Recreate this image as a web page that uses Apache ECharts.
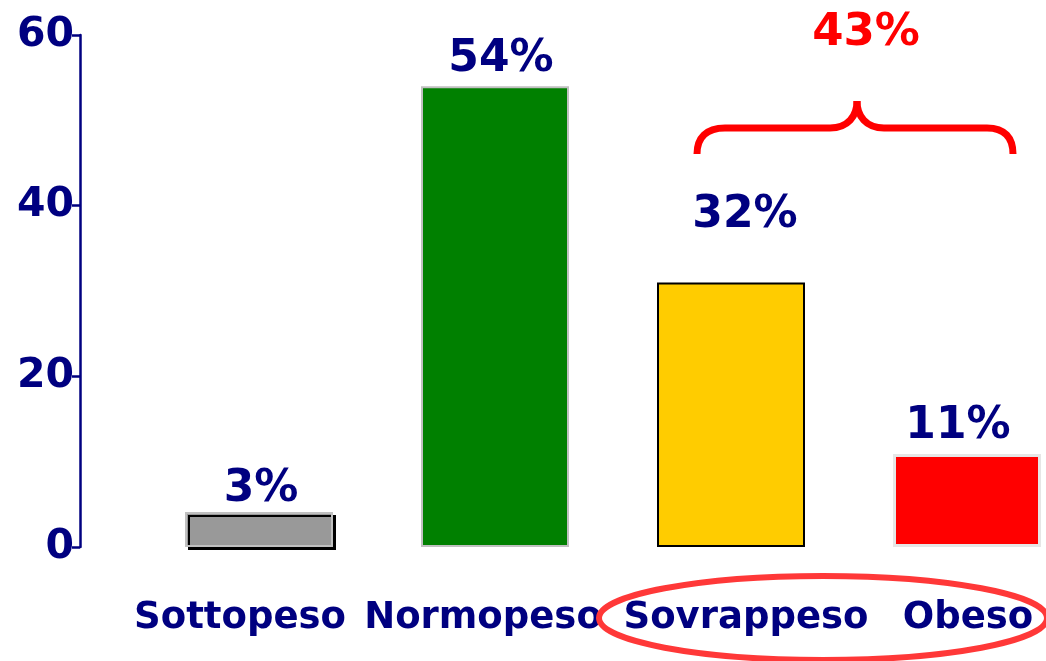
<!DOCTYPE html>
<html>
<head>
<meta charset="utf-8">
<title>Stato ponderale</title>
<script src="https://cdn.jsdelivr.net/npm/echarts@6/dist/echarts.min.js"></script>
<style>
    html, body { margin: 0; padding: 0; background: #fff; }
    #charts { width: 1046px; height: 661px; }
</style>
</head>
<body>
<div id="charts"></div>
<script>
// dati
var categorie = ['Sottopeso', 'Normopeso', 'Sovrappeso', 'Obeso'];
var valori = [4.1, 54, 31, 10.9];
var etichette = ['3%', '54%', '32%', '11%'];
var totaleEccesso = '43%';
var tickY = [0, 20, 40, 60];

var navy = '#000080';
var font = 'Verdana, "DejaVu Sans", sans-serif';

// stile delle singole barre
var stileBarre = [
    { color: '#999999', borderColor: '#c0c0c0', borderWidth: 2, shadowColor: '#000', shadowOffsetX: 3, shadowOffsetY: 3, shadowBlur: 0 },
    { color: '#008000', borderColor: '#c0c0c0', borderWidth: 2 },
    { color: '#FFCC00', borderColor: '#000000', borderWidth: 2 },
    { color: '#FF0000', borderColor: '#e6e6e6', borderWidth: 3 }
];
// piccoli spostamenti delle etichette come nell'originale
var spostaPct = [[2, 5], [6, 0], [14, -40], [-9, 0]];
var spostaCat = [-19, -12, 15, 1];

var myChart = echarts.init(document.getElementById('charts'));

var rich = {};
for (var i = 0; i < categorie.length; i++) {
    var s = spostaCat[i];
    rich['c' + i] = {
        fontFamily: font, fontWeight: 'bold', fontSize: 37, color: navy,
        padding: s < 0 ? [0, -2 * s, 0, 0] : [0, 0, 0, 2 * s]
    };
}

var dati = [];
for (var j = 0; j < valori.length; j++) {
    dati.push({
        value: valori[j],
        itemStyle: stileBarre[j],
        label: { offset: spostaPct[j] }
    });
}

// graffa rossa: pezzi di curva e linee
var rosso = { fill: 'none', stroke: '#FF0000', lineWidth: 7 };
function curva(x1, y1, a, b, c, d, x2, y2) {
    return { type: 'bezierCurve', z: 100, shape: { x1: x1, y1: y1, cpx1: a, cpy1: b, cpx2: c, cpy2: d, x2: x2, y2: y2 }, style: rosso };
}
function linea(x1, y1, x2, y2) {
    return { type: 'line', z: 100, shape: { x1: x1, y1: y1, x2: x2, y2: y2 }, style: rosso };
}

option = {
    animation: false,
    grid: { left: 259, right: 79, top: 35, bottom: 114 },
    xAxis: {
        type: 'category',
        data: categorie,
        boundaryGap: false,
        axisLine: { show: false },
        axisTick: { show: false },
        splitLine: { show: false },
        axisLabel: {
            margin: 53,
            formatter: function (v, idx) { return '{c' + idx + '|' + v + '}'; },
            rich: rich
        }
    },
    yAxis: {
        type: 'value',
        min: tickY[0],
        max: tickY[tickY.length - 1],
        interval: 20,
        offset: 179,
        splitLine: { show: false },
        axisLine: { show: true, lineStyle: { color: navy, width: 2.5 } },
        axisTick: { show: true, length: 8, lineStyle: { color: navy, width: 2.5 } },
        axisLabel: {
            margin: 6,
            fontFamily: font, fontWeight: 'bold', fontSize: 41, color: navy
        }
    },
    series: [{
        type: 'bar',
        barWidth: 148,
        clip: false,
        data: dati,
        label: {
            show: true,
            position: 'top',
            fontFamily: font, fontWeight: 'bold', fontSize: 44, color: navy,
            formatter: function (p) { return etichette[p.dataIndex]; }
        }
    }],
    graphic: [
        {
            type: 'text', z: 100,
            x: 866, y: 33,
            style: {
                text: totaleEccesso, fill: '#FF0000',
                font: 'bold 45px ' + font,
                textAlign: 'center', textVerticalAlign: 'middle'
            }
        },
        curva(697, 154, 697, 138, 706, 128, 725, 128),
        linea(725, 128, 830, 128),
        curva(830, 128, 848, 128, 857, 116, 857, 101),
        curva(857, 101, 857, 116, 866, 128, 884, 128),
        linea(884, 128, 987, 128),
        curva(987, 128, 1005, 128, 1013, 138, 1013, 154),
        {
            type: 'ellipse', z: 100,
            shape: { cx: 823, cy: 618, rx: 224, ry: 42 },
            style: { fill: 'none', stroke: '#FF3838', lineWidth: 6 }
        }
    ]
};

myChart.setOption(option);
</script>
</body>
</html>
